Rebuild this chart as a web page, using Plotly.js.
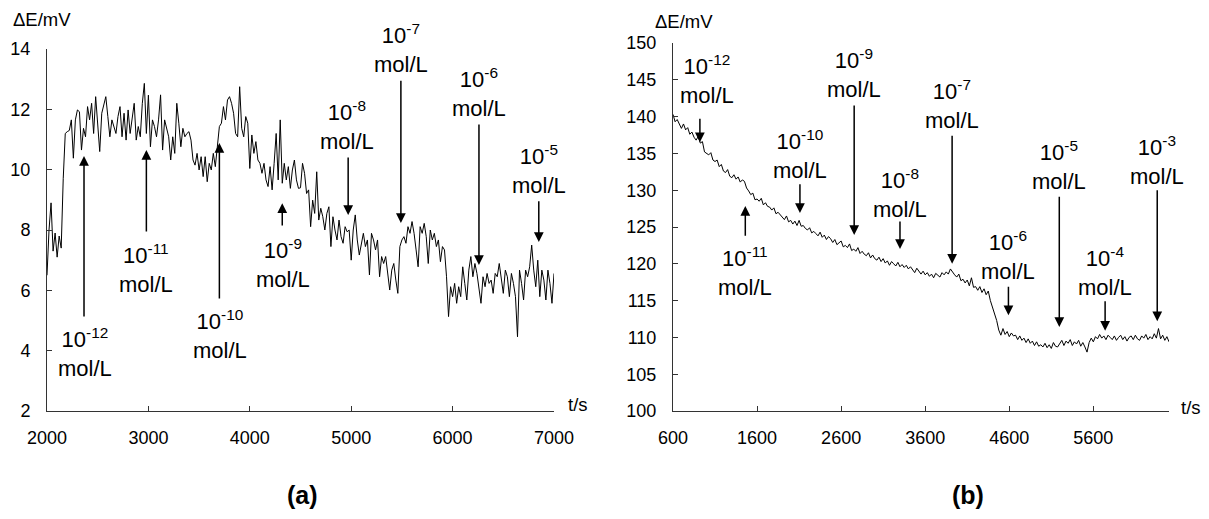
<!DOCTYPE html>
<html>
<head>
<meta charset="utf-8">
<script src="https://cdn.plot.ly/plotly-3.0.1.min.js"></script>
<style>html,body{margin:0;padding:0;background:#fff}#chart{width:1209px;height:519px}</style>
</head>
<body>
<div id="chart"></div>
<script>
// ---------- Data: panel (a) ----------
const tStartA = 2000, tStepA = 20;   // s
const dEA = [
6.5,8.0,8.9,7.3,7.9, 7.1,7.8,7.4,9.7,11.2,
11.26,11.3,11.65,10.38,11.65, 11.98,11.92,10.65,11.37,11.09,
12.09,11.65,12.2,11.2,12.42, 11.65,10.6,11.87,12.2,12.42,
11.76,11.09,11.65,11.43,11.2, 11.76,12.09,11.09,11.87,10.98,
11.98,11.2,11.65,12.2,10.98, 11.43,11.09,12.2,12.86,11.2,
12.47,10.76,11.65,11.43,11.09, 11.65,12.48,10.65,11.65,11.31,
11.09,10.32,11.09,10.54,12.2, 11.54,10.76,11.37,11.09,11.2,
11.26,10.98,10.32,10.15,10.54, 9.99,10.43,9.77,10.43,9.6,
10.21,9.99,10.54,10.1,10.76, 11.43,11.54,12.09,11.65,12.31,
12.42,12.2,11.87,11.2,11.09, 12.75,11.37,11.09,11.76,11.54,
10.04,11.15,10.54,10.93,10.32, 10.21,9.88,10.21,9.66,9.44,
10.1,9.33,10.21,11.2,9.66, 11.65,9.55,10.21,9.66,10.1,
9.38,9.99,10.32,9.66,9.38, 9.4,10.21,9.88,9.21,9.33,
8.11,8.99,8.55,9.93,8.33, 8.72,8.44,8.0,8.55,8.77,
7.45,8.44,8.0,7.67,8.33, 7.78,7.56,8.11,7.94,8.0,
7.0,8.0,8.5,7.67,7.17, 7.56,7.89,7.45,7.67,6.51,
7.89,7.67,7.34,7.67,6.45, 7.12,6.89,7.12,6.56,6.01,
6.67,6.89,6.34,5.9,7.45, 7.67,7.78,7.56,8.11,7.89,
8.28,7.89,7.34,6.78,8.11, 7.89,8.22,7.78,6.89,8.0,
7.67,7.89,7.45,7.67,6.95, 7.45,7.34,6.45,5.13,6.12,
5.79,6.23,5.57,6.12,5.79, 6.78,6.23,5.68,6.67,7.12,
6.45,6.89,6.56,6.01,5.57, 6.45,6.12,6.56,6.23,6.34,
5.9,6.56,6.45,6.89,6.45, 5.9,6.67,6.45,5.79,6.56,
6.23,5.79,4.46,6.67,6.23, 5.68,6.67,6.45,6.78,7.5,
6.67,6.12,7.0,5.79,6.67, 6.34,5.68,6.67,6.23,5.57,
6.56
];
const xTicksA = [2000,3000,4000,5000,6000,7000];
const yTicksA = [2,4,6,8,10,12,14];

// ---------- Data: panel (b) ----------
const tStartB = 600, tStepB = 25;   // s
const dEB = [
140.3,139.3,139.6,138.9,138.4, 139.0,138.2,138.5,137.6,137.9,
137.2,136.8,137.3,136.4,136.6, 135.2,135.0,134.8,135.1,134.1,
133.9,134.1,133.2,133.5,132.6, 132.4,132.8,131.9,131.7,132.1,
131.5,131.8,131.1,131.4,131.2, 130.3,129.9,129.4,129.6,128.7,
128.8,128.5,128.9,128.0,128.3, 127.8,127.7,127.3,127.6,126.8,
127.0,126.7,126.4,126.0,126.5, 125.7,125.9,125.4,125.8,125.2,
125.9,125.1,125.2,124.8,124.6, 124.9,124.2,124.4,124.1,123.8,
124.3,123.6,123.9,123.3,123.7, 123.4,122.9,123.3,122.6,122.8,
123.1,122.3,122.5,122.2,122.7, 121.8,122.0,121.7,122.2,121.4,
121.7,121.3,121.1,121.5,120.8, 121.2,120.7,120.5,120.9,120.3,
120.7,120.1,120.4,119.8,120.3, 120.0,119.7,120.2,119.6,119.9,
119.5,119.8,119.3,119.6,119.2, 118.8,119.4,118.9,118.6,119.0,
118.5,118.8,118.3,118.6,118.1, 118.7,118.4,118.2,118.8,118.5,
118.9,118.6,119.3,118.8,118.5, 118.2,118.6,117.7,117.9,117.4,
117.8,117.0,118.1,116.8,116.9, 116.4,116.9,116.1,116.6,115.8,
116.3,115.0,114.1,112.9,112.3, 111.0,110.3,111.2,110.4,110.8,
110.1,110.6,110.2,110.3,109.7, 110.2,109.6,109.9,109.3,109.8,
109.2,109.5,108.9,109.4,108.8, 109.0,108.7,109.2,108.6,109.0,
108.5,109.3,108.8,108.7,109.1, 109.6,108.9,109.5,109.2,109.7,
108.9,109.4,109.1,109.6,108.8, 109.3,108.7,108.0,109.3,109.9,
109.4,110.1,109.8,110.4,109.9, 110.2,109.7,110.3,110.0,109.7,
110.2,109.6,110.0,110.3,109.7, 110.1,109.5,110.0,110.2,109.7,
110.3,109.8,109.6,110.2,109.9, 110.4,109.7,110.1,109.8,110.5,
109.9,111.2,109.8,110.3,109.6, 110.1,109.4
];
const xTicksB = [600,1600,2600,3600,4600,5600];
const yTicksB = [100,105,110,115,120,125,130,135,140,145,150];

// concentration markers (exponents)
const concA = ['-12','-11','-10','-9','-8','-7','-6','-5'];
const concB = ['-12','-11','-10','-9','-8','-7','-6','-5','-4','-3'];

// ---------- build ----------
const tA = dEA.map((_, i) => tStartA + i * tStepA);
const tB = dEB.map((_, i) => tStartB + i * tStepB);

// marker placement: [arrow x, head y, tail y, label x, label y]
const markA = [
  [2365,10.45,5.08,2375,3.94],
  [2980,10.65,7.9,2980,6.71],
  [3700,10.88,5.68,3706,4.52],
  [4320,8.89,8.1,4330,6.89],
  [4970,8.5,10.45,4962,11.45],
  [5490,8.23,13.0,5490,14.0],
  [6260,6.84,11.55,6260,12.57],
  [6850,7.6,9.0,6855,9.99]
];
const markB = [
  [920,136.5,139.9,1005,145.1],
  [1460,127.85,123.6,1460,118.9],
  [2110,126.9,131.0,2110,134.9],
  [2755,123.9,141.7,2755,145.8],
  [3300,122.0,125.95,3300,129.6],
  [3920,120.0,137.6,3920,141.7],
  [4590,113.0,117.1,4590,121.1],
  [5195,111.4,129.3,5195,133.4],
  [5740,110.9,115.1,5740,119.0],
  [6360,112.2,130.2,6360,134.1]
];

const FONT = 'Liberation Sans, Arial, sans-serif';
const annotations = [];
function addMarks(marks, conc, xr, yr) {
  marks.forEach((m, i) => {
    annotations.push({
      xref: xr, yref: yr, axref: xr, ayref: yr,
      x: m[0], y: m[1], ax: m[0], ay: m[2],
      text: '', showarrow: true, arrowhead: 2, arrowsize: 1.3, arrowwidth: 1.5,
      arrowcolor: '#000', standoff: 0, startstandoff: 0
    });
    annotations.push({
      xref: xr, yref: yr, x: m[3], y: m[4], showarrow: false,
      xanchor: 'center', yanchor: 'middle', align: 'center',
      text: '10<sup>' + conc[i] + '</sup><br>mol/L',
      font: {family: FONT, size: 22, color: '#000'}
    });
  });
}
addMarks(markA, concA, 'x', 'y');
addMarks(markB, concB, 'x2', 'y2');

const W = 1209, H = 519;
function paper(px, py, text, size, bold) {
  annotations.push({
    xref: 'paper', yref: 'paper', x: px / W, y: 1 - py / H,
    xanchor: 'center', yanchor: 'middle', showarrow: false,
    text: bold ? '<b>' + text + '</b>' : text,
    font: {family: FONT, size: size, color: '#000'}
  });
}
paper(42, 19, 'ΔE/mV', 18.5);
paper(684, 22, 'ΔE/mV', 18.5);
paper(578, 404, 't/s', 18.5);
paper(1191, 407, 't/s', 18.5);
paper(302, 495, '(a)', 25, true);
paper(968, 495, '(b)', 25, true);

const axCommon = {
  showgrid: false, zeroline: false, showline: true, linecolor: '#333', linewidth: 1,
  ticks: 'inside', ticklen: 5, tickwidth: 1, tickcolor: '#333',
  tickfont: {family: FONT, size: 18, color: '#000'}, fixedrange: true
};

const data = [
  {x: tA, y: dEA, type: 'scatter', mode: 'lines', line: {color: '#000', width: 1}, xaxis: 'x', yaxis: 'y', hoverinfo: 'skip'},
  {x: tB, y: dEB, type: 'scatter', mode: 'lines', line: {color: '#000', width: 1}, xaxis: 'x2', yaxis: 'y2', hoverinfo: 'skip'}
];

const layout = {
  width: W, height: H, margin: {l: 0, r: 0, t: 0, b: 0},
  paper_bgcolor: '#fff', plot_bgcolor: '#fff', showlegend: false,
  font: {family: FONT, color: '#000'},
  xaxis: Object.assign({}, axCommon, {domain: [47 / W, 554 / W], range: [2000, 7000],
    tickmode: 'array', tickvals: xTicksA, ticktext: xTicksA.map(String), anchor: 'y', ticklabelstandoff: 10}),
  yaxis: Object.assign({}, axCommon, {domain: [1 - 411 / H, 1 - 49 / H], range: [2, 14],
    tickmode: 'array', tickvals: yTicksA, ticktext: yTicksA.map(String), anchor: 'x', ticklabelstandoff: 12}),
  xaxis2: Object.assign({}, axCommon, {domain: [673 / W, 1169 / W], range: [600, 6500],
    tickmode: 'array', tickvals: xTicksB, ticktext: xTicksB.map(String), anchor: 'y2', ticklabelstandoff: 10}),
  yaxis2: Object.assign({}, axCommon, {domain: [1 - 411 / H, 1 - 43 / H], range: [100, 150],
    tickmode: 'array', tickvals: yTicksB, ticktext: yTicksB.map(String), anchor: 'x2', ticklabelstandoff: 12}),
  annotations: annotations
};

Plotly.newPlot('chart', data, layout, {staticPlot: true, displayModeBar: false});
</script>
</body>
</html>
